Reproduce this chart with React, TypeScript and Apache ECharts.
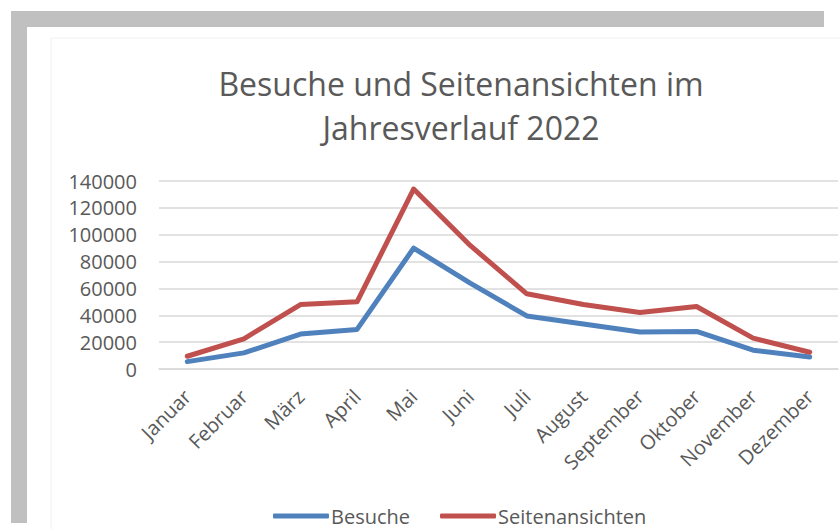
import React, { useEffect, useRef } from "react";
import * as echarts from "echarts";

const months = ["Januar", "Februar", "März", "April", "Mai", "Juni", "Juli", "August", "September", "Oktober", "November", "Dezember"];
const besuche = [5500, 12000, 26000, 29500, 90000, 64000, 39500, 33500, 27500, 28000, 14000, 9000];
const seitenansichten = [9500, 22500, 48000, 50000, 134000, 92000, 56000, 48000, 42000, 46500, 23000, 12500];
const yTicks = { min: 0, max: 140000, interval: 20000 };

const FONT = "'Open Sans', sans-serif";
const TEXT = "#595959";

export default function App() {
  const ref = useRef<HTMLDivElement>(null);
  useEffect(() => {
    if (!ref.current) return;
    const chart = echarts.init(ref.current, null, { renderer: "svg" });
    chart.setOption({
      animation: false,
      backgroundColor: "#ffffff",
      textStyle: { fontFamily: FONT },
      title: {
        text: "Besuche und Seitenansichten im\nJahresverlauf 2022",
        left: 456,
        top: 56,
        textAlign: "center",
        textStyle: { fontFamily: FONT, fontSize: 32, fontWeight: "normal", color: TEXT, lineHeight: 44 },
      },
      graphic: [
        { type: "rect", shape: { x: 51, y: 38, width: 800, height: 500 }, style: { fill: "none", stroke: "#f0f0f0", lineWidth: 1 }, silent: true },
        { type: "rect", shape: { x: 11, y: 11, width: 813, height: 16 }, style: { fill: "#c0c0c0" }, silent: true },
        { type: "rect", shape: { x: 11, y: 11, width: 16, height: 512 }, style: { fill: "#c0c0c0" }, silent: true },
      ],
      legend: {
        data: ["Besuche", "Seitenansichten"],
        left: 268,
        top: 500,
        itemWidth: 56,
        itemHeight: 5,
        itemGap: 30,
        icon: "roundRect",
        textStyle: { fontFamily: FONT, fontSize: 20, lineHeight: 22, color: TEXT, padding: [0, 0, 0, -3] },
      },
      grid: { left: 159, right: 2, top: 181, height: 188, containLabel: false },
      xAxis: {
        type: "category",
        data: months,
        boundaryGap: true,
        axisTick: { show: false },
        axisLine: { show: true, lineStyle: { color: "#d9d9d9", width: 1.5 } },
        axisLabel: { rotate: 45, margin: 24, fontFamily: FONT, fontSize: 20, color: TEXT, interval: 0 },
      },
      yAxis: {
        type: "value",
        min: yTicks.min,
        max: yTicks.max,
        interval: yTicks.interval,
        axisLine: { show: false },
        axisTick: { show: false },
        splitLine: { lineStyle: { color: "#d9d9d9", width: 1.5 } },
        axisLabel: { margin: 22, fontFamily: FONT, fontSize: 20, color: TEXT, formatter: (v: number) => String(v) },
      },
      series: [
        {
          name: "Besuche",
          type: "line",
          data: besuche,
          symbol: "none",
          itemStyle: { color: "#4F81BD" },
          lineStyle: { color: "#4F81BD", width: 5, cap: "round", join: "round" },
        },
        {
          name: "Seitenansichten",
          type: "line",
          data: seitenansichten,
          symbol: "none",
          itemStyle: { color: "#C0504D" },
          lineStyle: { color: "#C0504D", width: 5, cap: "round", join: "round" },
        },
      ],
    });
    return () => chart.dispose();
  }, []);
  return <div ref={ref} style={{ position: "fixed", left: 0, top: 0, width: 840, height: 529 }} />;
}
